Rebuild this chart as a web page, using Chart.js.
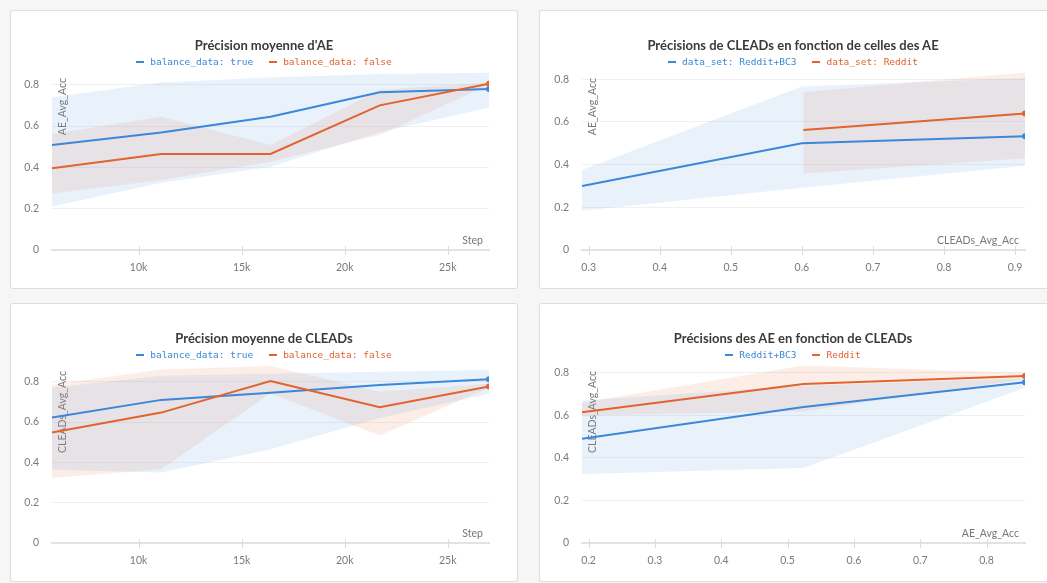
<!DOCTYPE html>
<html>
<head>
<meta charset="utf-8">
<script src="https://cdn.jsdelivr.net/npm/chart.js@4.4.0/dist/chart.umd.min.js"></script>
<style>
  html, body { margin: 0; padding: 0; background: #f6f6f6; width: 1047px; height: 583px; overflow: hidden; }
  .panel { position: absolute; background: #fff; box-shadow: 0 0 0 1px #dedede; border-radius: 2px; overflow: hidden; }
  .panel canvas { position: absolute; left: 0; top: 0; }
  .ttl { position: absolute; left: 0; right: 0; top: 26px; text-align: center; font: bold 13px Lato, sans-serif; color: #3a3a3a; line-height: 16px; z-index: 2; }
  .leg { position: absolute; left: 0; right: 0; top: 45px; text-align: center; font: 9.5px 'DejaVu Sans Mono', monospace; line-height: 12px; z-index: 2; }
  .leg span { display: inline-block; margin: 0 8px; }
  .leg i { display: inline-block; width: 8px; height: 2px; vertical-align: middle; margin-right: 6px; position: relative; top: -1px; }
</style>
</head>
<body>

<div class="panel" style="left:11px; top:11px; width:506px; height:277px;">
  <div class="ttl">Précision moyenne d'AE</div>
  <div class="leg" id="leg1"></div>
  <canvas id="c1" width="506" height="277"></canvas>
</div>
<div class="panel" style="left:540px; top:11px; width:520px; height:277px;">
  <div class="ttl" style="width:506px">Précisions de CLEADs en fonction de celles des AE</div>
  <div class="leg" id="leg2" style="width:506px"></div>
  <canvas id="c2" width="520" height="277"></canvas>
</div>
<div class="panel" style="left:11px; top:304px; width:506px; height:277px;">
  <div class="ttl">Précision moyenne de CLEADs</div>
  <div class="leg" id="leg3"></div>
  <canvas id="c3" width="506" height="277"></canvas>
</div>
<div class="panel" style="left:540px; top:304px; width:520px; height:277px;">
  <div class="ttl" style="width:506px">Précisions des AE en fonction de CLEADs</div>
  <div class="leg" id="leg4" style="width:506px"></div>
  <canvas id="c4" width="520" height="277"></canvas>
</div>

<script>
// training steps (x) shared by the two step charts
const steps = [5800, 11100, 16400, 21700, 27000];
const stepTicks = [10000, 15000, 20000, 25000];
const accTicks = [0.2, 0.3, 0.4, 0.5, 0.6, 0.7, 0.8, 0.9];
const yTicks = [0, 0.2, 0.4, 0.6, 0.8];

// chart 1: AE_Avg_Acc per step
const aeTrue = [0.508, 0.569, 0.645, 0.763, 0.779];
const aeTrueHi = [0.739, 0.81, 0.835, 0.852, 0.858];
const aeTrueLo = [0.21, 0.326, 0.403, 0.57, 0.69];
const aeFalse = [0.395, 0.465, 0.465, 0.70, 0.805];
const aeFalseHi = [0.561, 0.645, 0.508, 0.774, 0.81];
const aeFalseLo = [0.274, 0.339, 0.427, 0.556, 0.80];

// chart 3: CLEADs_Avg_Acc per step
const clTrue = [0.622, 0.710, 0.746, 0.784, 0.812];
const clTrueHi = [0.77, 0.83, 0.84, 0.85, 0.858];
const clTrueLo = [0.363, 0.35, 0.465, 0.62, 0.74];
const clFalse = [0.548, 0.647, 0.804, 0.673, 0.776];
const clFalseHi = [0.785, 0.861, 0.878, 0.75, 0.79];
const clFalseLo = [0.322, 0.366, 0.743, 0.533, 0.77];

// chart 2: AE_Avg_Acc vs CLEADs_Avg_Acc
const c2BlueX = [0.2906, 0.6, 0.914];
const c2Blue = [0.30, 0.50, 0.533];
const c2BlueHi = [0.375, 0.766, 0.805];
const c2BlueLo = [0.184, 0.292, 0.395];
const c2OrangeX = [0.602, 0.914];
const c2Orange = [0.5625, 0.639];
const c2OrangeHi = [0.739, 0.831];
const c2OrangeLo = [0.358, 0.43];

// chart 4: CLEADs_Avg_Acc vs AE_Avg_Acc
const c4X = [0.19, 0.524, 0.858];
const c4Blue = [0.491, 0.64, 0.756];
const c4BlueHi = [0.67, 0.74, 0.775];
const c4BlueLo = [0.325, 0.353, 0.73];
const c4Orange = [0.615, 0.748, 0.786];
const c4OrangeHi = [0.66, 0.835, 0.80];
const c4OrangeLo = [0.60, 0.62, 0.77];

const BLUE = '#3b87d9';
const ORANGE = '#e2632f';
const BLUE_FILL = 'rgba(96, 156, 224, 0.14)';
const ORANGE_FILL = 'rgba(232, 122, 72, 0.13)';
const FONT = 'Lato, sans-serif';

function pts(xs, ys) {
    return xs.map((x, i) => ({ x: x, y: ys[i] }));
}

function band(xs, ys, color, fill) {
    return { data: pts(xs, ys), borderWidth: 0, pointRadius: 0, backgroundColor: color, fill: fill, order: 2, tension: 0 };
}

function line(xs, ys, color, order) {
    return {
        data: pts(xs, ys), borderColor: color, backgroundColor: color, borderWidth: 2,
        pointRadius: ys.map((v, i) => i === ys.length - 1 ? 3 : 0),
        pointBackgroundColor: color, pointBorderWidth: 0, fill: false, order: order, tension: 0
    };
}

// axis names drawn inside the plot area, and x tick marks crossing the axis
const innerTitles = {
    id: 'innerTitles',
    beforeDatasetsDraw(chart, args, opts) {
        const { ctx, chartArea } = chart;
        ctx.save();
        ctx.font = '10.5px ' + FONT;
        ctx.fillStyle = '#777';
        ctx.textBaseline = 'middle';
        ctx.textAlign = 'right';
        ctx.fillText(opts.x, chartArea.right - 6, chartArea.bottom - 9);
        ctx.translate(chartArea.left + 11, chartArea.top + 8);
        ctx.rotate(-Math.PI / 2);
        ctx.fillText(opts.y, 0, 0);
        ctx.restore();
    },
    afterDraw(chart) {
        const { ctx, chartArea } = chart;
        const xs = chart.scales.x;
        ctx.save();
        ctx.strokeStyle = '#dcdcdc';
        ctx.lineWidth = 1;
        xs.ticks.forEach(t => {
            const px = Math.round(xs.getPixelForValue(t.value)) + 0.5;
            ctx.beginPath();
            ctx.moveTo(px, chartArea.bottom - 4);
            ctx.lineTo(px, chartArea.bottom + 5);
            ctx.stroke();
        });
        ctx.restore();
    }
};

function makeChart(id, datasets, o) {
    const canvas = document.getElementById(id);
    return new Chart(canvas, {
        type: 'line',
        data: { datasets: datasets },
        options: {
            responsive: false,
            animation: false,
            devicePixelRatio: 1,
            layout: { padding: { top: 59, right: canvas.width - o.right, bottom: 0, left: 0 } },
            plugins: {
                legend: { display: false },
                title: { display: false },
                tooltip: { enabled: false },
                innerTitles: { x: o.xTitle, y: o.yTitle }
            },
            scales: {
                x: {
                    type: 'linear', min: o.xmin, max: o.xmax,
                    border: { display: true, color: '#e3e3e3', width: 2 },
                    grid: { drawOnChartArea: false, drawTicks: false },
                    ticks: {
                        padding: 11, maxRotation: 0, autoSkip: false,
                        color: '#7a7a7a', font: { family: FONT, size: 10.5 },
                        callback: o.xfmt
                    },
                    afterBuildTicks(s) { s.ticks = o.xticks.map(v => ({ value: v })); },
                    afterFit(s) { s.height = 38; }
                },
                y: {
                    type: 'linear', min: 0, max: o.ymax,
                    border: { display: false },
                    grid: { color: '#f0f0f0', drawTicks: false },
                    ticks: { padding: 13, color: '#7a7a7a', font: { family: FONT, size: 10.5 }, callback: v => String(v) },
                    afterBuildTicks(s) { s.ticks = yTicks.map(v => ({ value: v })); },
                    afterFit(s) { s.width = o.left; }
                }
            }
        },
        plugins: [innerTitles]
    });
}

function legend(id, labels) {
    const colors = [BLUE, ORANGE];
    document.getElementById(id).innerHTML = labels.map((l, i) =>
        `<span style="color:${colors[i]}"><i style="background:${colors[i]}"></i>${l}</span>`).join('');
}

const kfmt = v => (v / 1000) + 'k';
const dfmt = v => String(v);

legend('leg1', ['balance_data: true', 'balance_data: false']);
makeChart('c1', [
    band(steps, aeTrueHi, BLUE_FILL, '+1'),
    band(steps, aeTrueLo, BLUE_FILL, false),
    band(steps, aeFalseHi, ORANGE_FILL, '+1'),
    band(steps, aeFalseLo, ORANGE_FILL, false),
    line(steps, aeTrue, BLUE, 1),
    line(steps, aeFalse, ORANGE, 0)
], { xmin: 5800, xmax: 27000, xticks: stepTicks, xfmt: kfmt, ymax: 0.871, left: 41, right: 478, xTitle: 'Step', yTitle: 'AE_Avg_Acc' });

legend('leg2', ['data_set: Reddit+BC3', 'data_set: Reddit']);
makeChart('c2', [
    band(c2BlueX, c2BlueHi, BLUE_FILL, '+1'),
    band(c2BlueX, c2BlueLo, BLUE_FILL, false),
    band(c2OrangeX, c2OrangeHi, ORANGE_FILL, '+1'),
    band(c2OrangeX, c2OrangeLo, ORANGE_FILL, false),
    line(c2BlueX, c2Blue, BLUE, 1),
    line(c2OrangeX, c2Orange, ORANGE, 0)
], { xmin: 0.2906, xmax: 0.914, xticks: accTicks.slice(1), xfmt: dfmt, ymax: 0.843, left: 42, right: 485, xTitle: 'CLEADs_Avg_Acc', yTitle: 'AE_Avg_Acc' });

legend('leg3', ['balance_data: true', 'balance_data: false']);
makeChart('c3', [
    band(steps, clTrueHi, BLUE_FILL, '+1'),
    band(steps, clTrueLo, BLUE_FILL, false),
    band(steps, clFalseHi, ORANGE_FILL, '+1'),
    band(steps, clFalseLo, ORANGE_FILL, false),
    line(steps, clTrue, BLUE, 1),
    line(steps, clFalse, ORANGE, 0)
], { xmin: 5800, xmax: 27000, xticks: stepTicks, xfmt: kfmt, ymax: 0.893, left: 41, right: 478, xTitle: 'Step', yTitle: 'CLEADs_Avg_Acc' });

legend('leg4', ['Reddit+BC3', 'Reddit']);
makeChart('c4', [
    band(c4X, c4BlueHi, BLUE_FILL, '+1'),
    band(c4X, c4BlueLo, BLUE_FILL, false),
    band(c4X, c4OrangeHi, ORANGE_FILL, '+1'),
    band(c4X, c4OrangeLo, ORANGE_FILL, false),
    line(c4X, c4Blue, BLUE, 1),
    line(c4X, c4Orange, ORANGE, 0)
], { xmin: 0.19, xmax: 0.858, xticks: accTicks.slice(0, 7), xfmt: dfmt, ymax: 0.847, left: 42, right: 485, xTitle: 'AE_Avg_Acc', yTitle: 'CLEADs_Avg_Acc' });
</script>
</body>
</html>
